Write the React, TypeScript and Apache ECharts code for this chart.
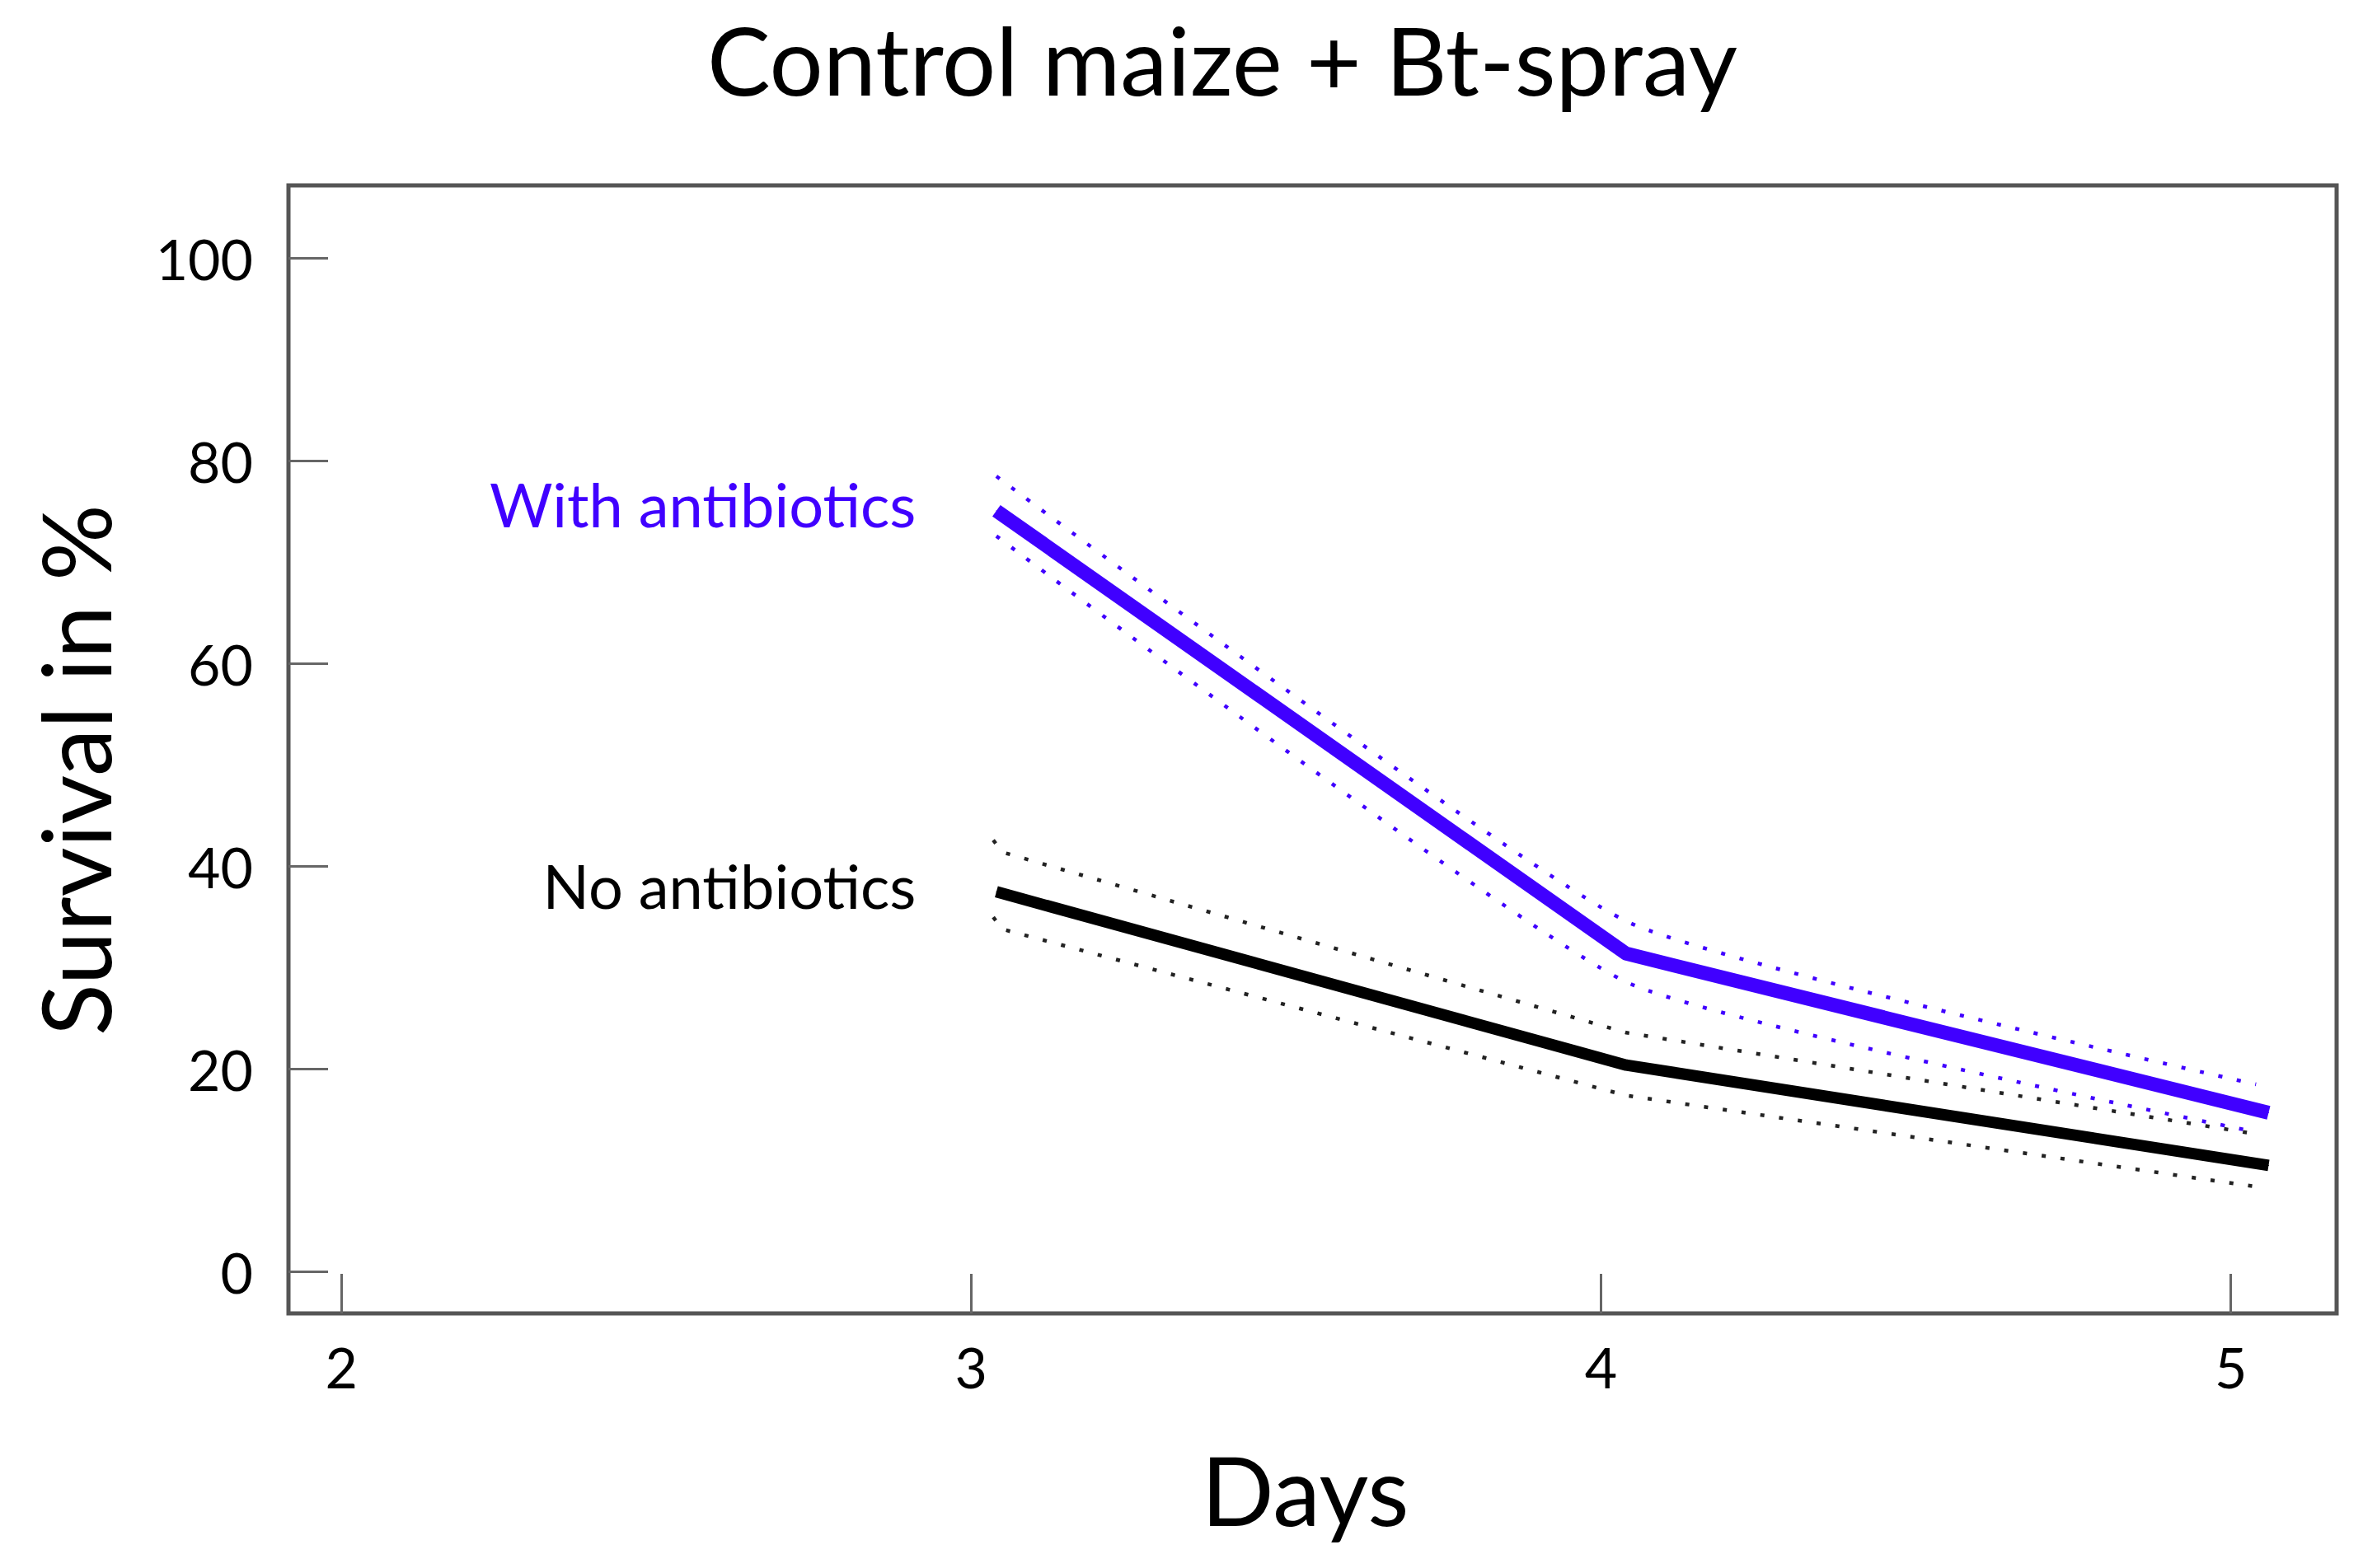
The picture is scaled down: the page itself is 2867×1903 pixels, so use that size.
import React, { useEffect, useRef } from "react";
import * as echarts from "echarts";

// ---- data ----
const xTicks = [2, 3, 4, 5];
const yTicks = [0, 20, 40, 60, 80, 100];

const withDays = [3.04, 4.04, 5.06];
const withMean = [75.1, 31.4, 15.7];
const withCiDays = [3.04, 4.04, 5.04];
const withUpper = [78.5, 34.6, 18.5];
const withLower = [72.6, 28.6, 13.8];

const noDays = [3.04, 4.04, 5.06];
const noMean = [37.5, 20.4, 10.5];
const noCiDays = [3.035, 3.05, 4.04, 5.04];
const noUpper = [42.6, 41.4, 23.6, 13.6];
const noLower = [35.0, 33.8, 17.4, 8.4];

const BLUE = "#4000ff";
const FONT = "Lato, 'Open Sans', sans-serif";

const pairs = (xs: number[], ys: number[]) => xs.map((x, i) => [x, ys[i]]);

export default function App() {
  const ref = useRef<HTMLDivElement>(null);
  useEffect(() => {
    if (!ref.current) return;
    const chart = echarts.init(ref.current, null, { renderer: "svg" });

    const labelled = (xs: number[], ys: number[], text: string, color: string) =>
      xs.map((x, i) =>
        i === 0
          ? {
              value: [x, ys[i]],
              label: {
                show: true,
                position: "left",
                distance: 97,
                offset: [0, -8],
                formatter: text,
                color,
                fontFamily: FONT,
                fontSize: 74,
              },
            }
          : { value: [x, ys[i]] }
      );

    const dotted = (name: string, data: number[][], color: string, smooth: number | boolean) => ({
      name,
      type: "line",
      data,
      showSymbol: false,
      smooth,
      silent: true,
      z: 2,
      lineStyle: { color, width: 4.5, type: [5, 18], cap: "butt" },
    });

    chart.setOption({
      animation: false,
      backgroundColor: "#ffffff",
      title: {
        text: "Control maize + Bt-spray",
        left: 1478,
        top: 8,
        textAlign: "center",
        textStyle: { fontFamily: FONT, fontSize: 115, fontWeight: "normal", color: "#000" },
      },
      grid: {
        left: 350,
        right: 32,
        top: 225,
        bottom: 309,
        show: true,
        borderColor: "#555555",
        borderWidth: 5,
        backgroundColor: "transparent",
        containLabel: false,
        outerBoundsMode: "none",
      },
      xAxis: {
        type: "value",
        min: 1.916,
        max: 5.168,
        name: "Days",
        nameLocation: "middle",
        nameGap: 155,
        nameTextStyle: { fontFamily: FONT, fontSize: 116, color: "#000", padding: [0, 18, 0, 0] },
        axisLine: { show: false, onZero: false },
        splitLine: { show: false },
        axisTick: {
          show: true,
          inside: true,
          length: 48,
          customValues: xTicks,
          lineStyle: { color: "#666", width: 3 },
        },
        axisLabel: {
          customValues: xTicks,
          margin: 30,
          fontFamily: FONT,
          fontSize: 68,
          color: "#000",
        },
      },
      yAxis: {
        type: "value",
        min: -4.1,
        max: 107.2,
        name: "Survival in %",
        nameLocation: "middle",
        nameGap: 202,
        nameRotate: 90,
        nameTextStyle: {
          fontFamily: FONT,
          fontSize: 116,
          color: "#000",
          padding: [0, 50, 0, 0],
        },
        axisLine: { show: false, onZero: false },
        splitLine: { show: false },
        axisTick: {
          show: true,
          inside: true,
          length: 48,
          customValues: yTicks,
          lineStyle: { color: "#666", width: 3 },
        },
        axisLabel: {
          customValues: yTicks,
          margin: 43,
          fontFamily: FONT,
          fontSize: 68,
          color: "#000",
        },
      },
      series: [
        dotted("No antibiotics upper", pairs(noCiDays, noUpper), "#222", false),
        dotted("No antibiotics lower", pairs(noCiDays, noLower), "#222", false),
        dotted("With antibiotics upper", pairs(withCiDays, withUpper), BLUE, 0.15),
        dotted("With antibiotics lower", pairs(withCiDays, withLower), BLUE, 0.15),
        {
          name: "No antibiotics",
          type: "line",
          data: labelled(noDays, noMean, "No antibiotics", "#000"),
          symbol: "circle",
          symbolSize: 1,
          showSymbol: true,
          silent: true,
          z: 3,
          itemStyle: { color: "#000" },
          lineStyle: { color: "#000", width: 14, join: "round", cap: "butt" },
        },
        {
          name: "With antibiotics",
          type: "line",
          data: labelled(withDays, withMean, "With antibiotics", BLUE),
          symbol: "circle",
          symbolSize: 1,
          showSymbol: true,
          silent: true,
          z: 4,
          itemStyle: { color: BLUE },
          lineStyle: { color: BLUE, width: 17, join: "round", cap: "butt" },
        },
      ],
    });
    return () => chart.dispose();
  }, []);

  return (
    <div
      ref={ref}
      style={{ position: "fixed", left: 0, top: 0, width: 2867, height: 1903, background: "#fff" }}
    />
  );
}
